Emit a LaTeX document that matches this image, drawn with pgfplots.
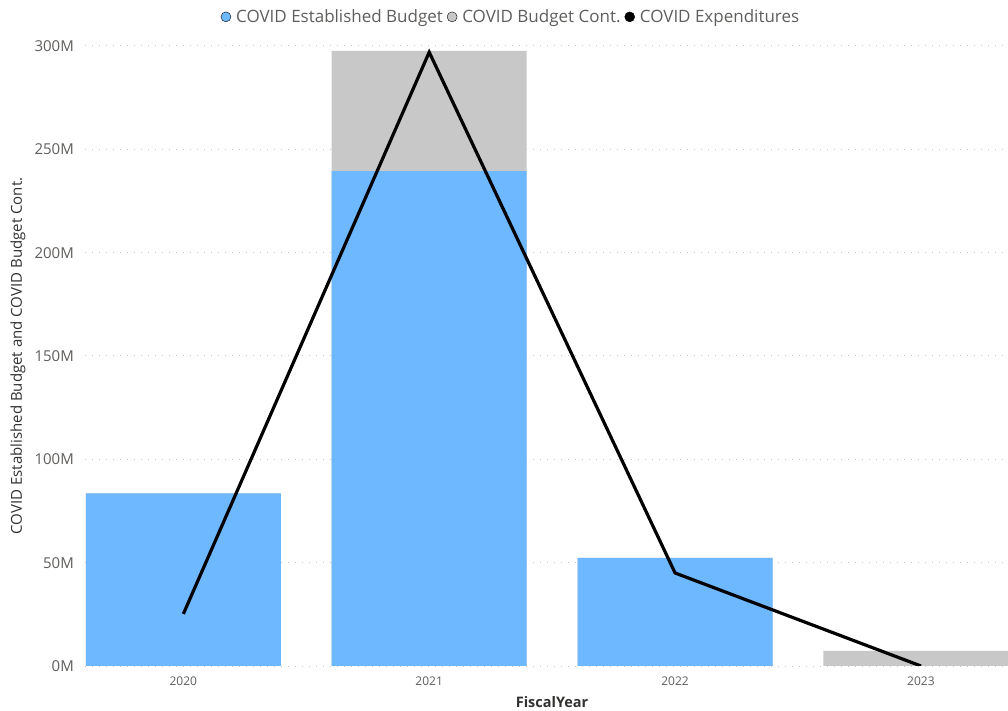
\documentclass[border=0pt]{standalone}
\usepackage{pgfplots}
\pgfplotsset{compat=1.18}
\usepackage{fontspec}
\setmainfont{Open Sans}

\definecolor{estblue}{RGB}{110,184,255}
\definecolor{contgrey}{RGB}{200,200,200}
\definecolor{labgrey}{RGB}{96,94,92}
\definecolor{titlegrey}{RGB}{50,49,48}
\definecolor{gridgrey}{RGB}{200,200,200}

% values in millions
\pgfplotstableread{
x  est    total  exp
0  83.5   83.5   25.2
1  239.5  297.6  297.0
2  52.3   52.3   45.0
3  0      7.3    0
}\budget

\begin{document}
\begin{tikzpicture}
\begin{axis}[
    scale only axis,
    width=923bp, height=620bp,
    xmin=-0.4, xmax=3.354,
    ymin=0, ymax=300,
    axis line style={draw=none},
    major tick length=0pt,
    xtick={0,1,2,3},
    xticklabels={2020,2021,2022,2023},
    ytick={0,50,...,300},
    yticklabels={0M,50M,100M,150M,200M,250M,300M},
    ymajorgrids=true,
    grid style={gridgrey, line width=1bp, dash pattern=on 1bp off 6bp},
    yticklabel style={font=\fontsize{15bp}{18bp}\selectfont, text=labgrey, anchor=east, inner sep=0pt, xshift=-11bp},
    xticklabel style={font=\fontsize{12bp}{14bp}\selectfont, text=labgrey, anchor=north, inner sep=0pt, yshift=-11bp},
    xlabel={FiscalYear},
    xlabel style={font=\fontsize{14.5bp}{16bp}\selectfont\bfseries, text=titlegrey, at={(axis description cs:0.506,0)}, anchor=center, yshift=-36bp},
    ylabel={COVID Established Budget and COVID Budget Cont.},
    ylabel style={font=\fontsize{15bp}{18bp}\selectfont, text=titlegrey, at={(axis description cs:-0.0726,0.5)}, anchor=center},
    legend columns=3,
    legend style={draw=none, fill=none, inner sep=0pt,
        font=\fontsize{17bp}{20bp}\selectfont, text=labgrey,
        at={(axis description cs:0.4615,1.047)}, anchor=center,
        /tikz/every odd column/.append style={column sep=3bp},
        /tikz/every even column/.append style={column sep=2bp}},
    legend image code/.code={\fill[#1] (0bp,0bp) circle (5bp);},
]
\addlegendimage{fill=estblue}
\addlegendentry{COVID Established Budget}
\addlegendimage{fill=contgrey}
\addlegendentry{COVID Budget Cont.}
\addlegendimage{fill=black}
\addlegendentry{COVID Expenditures}

\addplot[ybar, bar width=0.793, bar shift=0pt, fill=contgrey, draw=none, forget plot] table[x=x, y=total] {\budget};
\addplot[ybar, bar width=0.793, bar shift=0pt, fill=estblue, draw=none, forget plot] table[x=x, y=est] {\budget};
\addplot[sharp plot, black, line width=3.2bp, line join=miter, mark=none, forget plot] table[x=x, y=exp] {\budget};
\end{axis}
\pgfresetboundingbox
\path[use as bounding box] ([shift={(-85bp,-45bp)}]current axis.south west) rectangle ([shift={(0bp,46bp)}]current axis.north east);
\end{tikzpicture}
\end{document}
